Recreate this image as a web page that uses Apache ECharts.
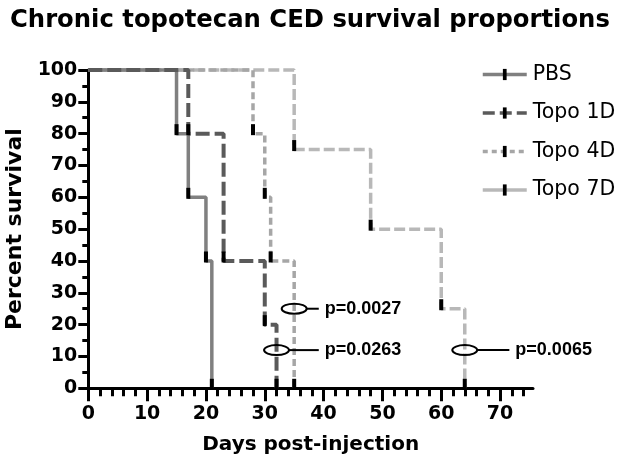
<!DOCTYPE html>
<html><head><meta charset="utf-8">
<script src="https://cdn.jsdelivr.net/npm/echarts@6/dist/echarts.min.js"></script>
<style>html,body{margin:0;padding:0;background:#fff}#c{width:624px;height:473px}</style>
</head><body><div id="c"></div>
<script>
const seriesNames = ['PBS', 'Topo 1D', 'Topo 4D', 'Topo 7D'];
const pbsDays = [0, 15, 17, 20, 21];
const pbsSurvival = [100, 80, 60, 40, 0];
const topo1Days = [0, 17, 23, 30, 32];
const topo1Survival = [100, 80, 40, 20, 0];
const topo4Days = [0, 28, 30, 31, 35];
const topo4Survival = [100, 80, 60, 40, 0];
const topo7Days = [0, 35, 48, 60, 64];
const topo7Survival = [100, 75, 50, 25, 0];
const xTickLabels = [0, 10, 20, 30, 40, 50, 60, 70];
const pLabels = ['p=0.0027', 'p=0.0263', 'p=0.0065'];
const pDays = [35, 32, 64];
const pSurvival = [25, 12, 12];
const pTextDays = [40.2, 40.2, 72.6];

const minorTickDays = [];
for (let d = 2; d < 75; d += 2) { if (d % 10 !== 0) minorTickDays.push(d); }

const FONT = '"DejaVu Sans", sans-serif';
const markPath = 'path://M0,0M12,12M4,0L8,0L8,12L4,12Z';
const colors = ['#808080', '#5a5a5a', '#a6a6a6', '#b8b8b8'];
const dashes = ['solid', [14, 5], [7, 4], [11, 4]];
const legendDashes = ['solid', [12, 5], [5, 4], 'solid'];

function stepSeries(idx, days, surv, width, z) {
  return {
    name: seriesNames[idx], type: 'line', step: 'end', z: z,
    data: days.map((d, i) => i === 0 ? { value: [d, surv[i]], symbol: 'none' } : [d, surv[i]]),
    symbol: markPath, symbolSize: [12, 11], symbolOffset: [0, -4], showSymbol: true,
    itemStyle: { color: '#000' },
    lineStyle: { color: colors[idx], width: width, type: dashes[idx] },
    emphasis: { disabled: true }, animation: false, clip: false
  };
}

const chart = echarts.init(document.getElementById('c'), null, { renderer: 'canvas' });
const axisBlack = { color: '#000', width: 3 };
chart.setOption({
  backgroundColor: '#fff',
  animation: false,
  title: {
    text: 'Chronic topotecan CED survival proportions', left: 5, top: 4,
    textStyle: { fontFamily: FONT, fontWeight: 'bold', fontSize: 24.3, color: '#000' }
  },
  legend: {
    orient: 'vertical', left: 476, top: 59, itemWidth: 44, itemHeight: 14, itemGap: 17.5,
    data: seriesNames.map((n, i) => ({ name: n, lineStyle: { width: 3.5, color: colors[i], type: legendDashes[i] } })),
    textStyle: { fontFamily: FONT, fontSize: 20.5, color: '#000', padding: [0, 0, 0, 1] }
  },
  grid: { left: 88.3, top: 70, right: 91, bottom: 84.7, outerBoundsMode: 'none' },
  xAxis: [{
    type: 'value', min: 0, max: 75.6, interval: 10,
    axisLine: { show: true, lineStyle: axisBlack },
    axisTick: { show: true, customValues: xTickLabels, length: 13, lineStyle: axisBlack },
    axisLabel: { customValues: xTickLabels, margin: 16, fontFamily: FONT, fontWeight: 'bold', fontSize: 19, color: '#000' },
    splitLine: { show: false },
    name: 'Days post-injection', nameLocation: 'middle', nameGap: 46,
    nameTextStyle: { fontFamily: FONT, fontWeight: 'bold', fontSize: 20, color: '#000' }
  }, {
    type: 'value', min: 0, max: 75.6, position: 'bottom',
    axisLine: { show: false },
    axisTick: { show: true, customValues: minorTickDays, length: 8, lineStyle: axisBlack },
    axisLabel: { show: false }, splitLine: { show: false }
  }],
  yAxis: {
    type: 'value', min: 0, max: 100, interval: 10,
    axisLine: { show: true, lineStyle: axisBlack },
    axisTick: { show: true, length: 10, lineStyle: axisBlack },
    minorTick: { show: true, splitNumber: 2, length: 6, lineStyle: axisBlack },
    splitLine: { show: false },
    axisLabel: { margin: 11, fontFamily: FONT, fontWeight: 'bold', fontSize: 19, color: '#000' },
    name: 'Percent survival', nameLocation: 'middle', nameGap: 51,
    nameTextStyle: { fontFamily: FONT, fontWeight: 'bold', fontSize: 22, color: '#000' }
  },
  series: [
    stepSeries(0, pbsDays, pbsSurvival, 3.5, 4),
    stepSeries(1, topo1Days, topo1Survival, 4, 5),
    stepSeries(2, topo4Days, topo4Survival, 3.5, 3),
    stepSeries(3, topo7Days, topo7Survival, 3.5, 2),
    {
      type: 'custom', z: 10, silent: true, clip: false,
      data: pDays.map((d, i) => [d, pSurvival[i], pTextDays[i]]),
      encode: { x: [0, 2], y: 1 },
      renderItem: function (params, api) {
        const c = api.coord([api.value(0), api.value(1)]);
        const t = api.coord([api.value(2), api.value(1)]);
        const i = params.dataIndex;
        return {
          type: 'group', children: [
            { type: 'path', shape: { pathData: 'M0,5 A12.5,5 0 1,1 25,5 A12.5,5 0 1,1 0,5 Z', x: c[0] - 12.5, y: c[1] - 5, width: 25, height: 10 },
              style: { fill: 'none', stroke: '#000', lineWidth: 2 } },
            { type: 'line', shape: { x1: c[0] + 12.5, y1: c[1], x2: t[0] - 6, y2: c[1] }, style: { stroke: '#000', lineWidth: 2 } },
            { type: 'text', x: t[0], y: c[1],
              style: { text: pLabels[i], fill: '#000', font: 'bold 18px "Liberation Sans", Arial, sans-serif', verticalAlign: 'middle', align: 'left' } }
          ]
        };
      }
    }
  ]
});
</script></body></html>
